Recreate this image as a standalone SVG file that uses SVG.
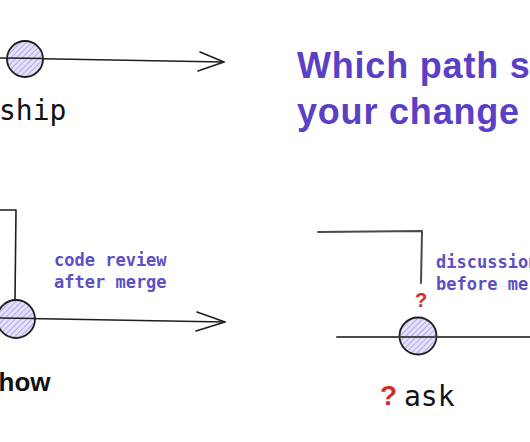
<svg xmlns="http://www.w3.org/2000/svg" width="530" height="442" viewBox="0 0 530 442">
  <defs>
    <pattern id="hatch" patternUnits="userSpaceOnUse" width="4" height="4" patternTransform="rotate(45)">
      <rect width="4" height="4" fill="#e4e1fa"/>
      <line x1="0" y1="0" x2="0" y2="4" stroke="#9d92e0" stroke-width="1.4"/>
    </pattern>
  </defs>
  <style>
    .line { fill: none; stroke: #1e1e1e; stroke-width: 1.6; stroke-linecap: round; stroke-linejoin: round; }
    .gline { fill: none; stroke: #4a4a4a; stroke-width: 2; stroke-linecap: round; stroke-linejoin: round; }
    .commit { fill: url(#hatch); stroke: #1e1e1e; stroke-width: 1.8; }
    .title { font-family: "Liberation Sans", Arial, sans-serif; font-weight: bold; font-size: 36px; fill: #5a40c6; letter-spacing: 0.8px; }
    .note { font-family: "DejaVu Sans Mono", "Liberation Mono", monospace; font-weight: bold; font-size: 17px; fill: #5e4fc4; }
    .mono { font-family: "DejaVu Sans Mono", "Liberation Mono", monospace; font-size: 28px; fill: #111; }
    .bold { font-family: "Liberation Sans", Arial, sans-serif; font-weight: bold; font-size: 26px; fill: #111; }
    .q { font-family: "Liberation Sans", Arial, sans-serif; font-weight: bold; fill: #d42b2b; }
  </style>

  <g id="connectors">
    <path class="line" d="M0 58 L224 62"/>
    <path class="line" d="M200 52 L224 62 L198 71"/>
    <path class="line" d="M0 210 L16 210 L15 300"/>
    <path class="line" d="M0 318 L225 322"/>
    <path class="line" d="M197 312 L225 322 L196 331"/>
    <path class="gline" d="M318 232 L422 231 L421 283"/>
    <path class="gline" d="M337 337 L530 337"/>
  </g>

  <g id="title">
    <text class="title" x="297" y="78">Which path s</text>
    <text class="title" x="297" y="124">your change</text>
  </g>

  <g id="ship">
    <circle class="commit" cx="25" cy="59" r="18"/>
    <line class="line" x1="7" y1="58" x2="43" y2="58.5"/>
    <text class="mono" x="-1" y="120">ship</text>
  </g>

  <g id="show">
    <circle class="commit" cx="16" cy="319" r="19"/>
    <line class="line" x1="0" y1="318" x2="35" y2="318.5"/>
    <text class="note" x="54" y="266">code review</text>
    <text class="note" x="54" y="288">after merge</text>
    <text class="bold" x="-1.5" y="391">how</text>
  </g>

  <g id="ask">
    <circle class="commit" cx="418" cy="336" r="18.5"/>
    <line class="gline" x1="400" y1="337" x2="436" y2="337"/>
    <text class="q" x="415" y="307" font-size="20">?</text>
    <text class="note" x="436" y="268">discussion</text>
    <text class="note" x="436" y="290">before me</text>
    <text class="q" x="380" y="405" font-size="28">?</text>
    <text class="mono" x="404" y="406">ask</text>
  </g>
</svg>
